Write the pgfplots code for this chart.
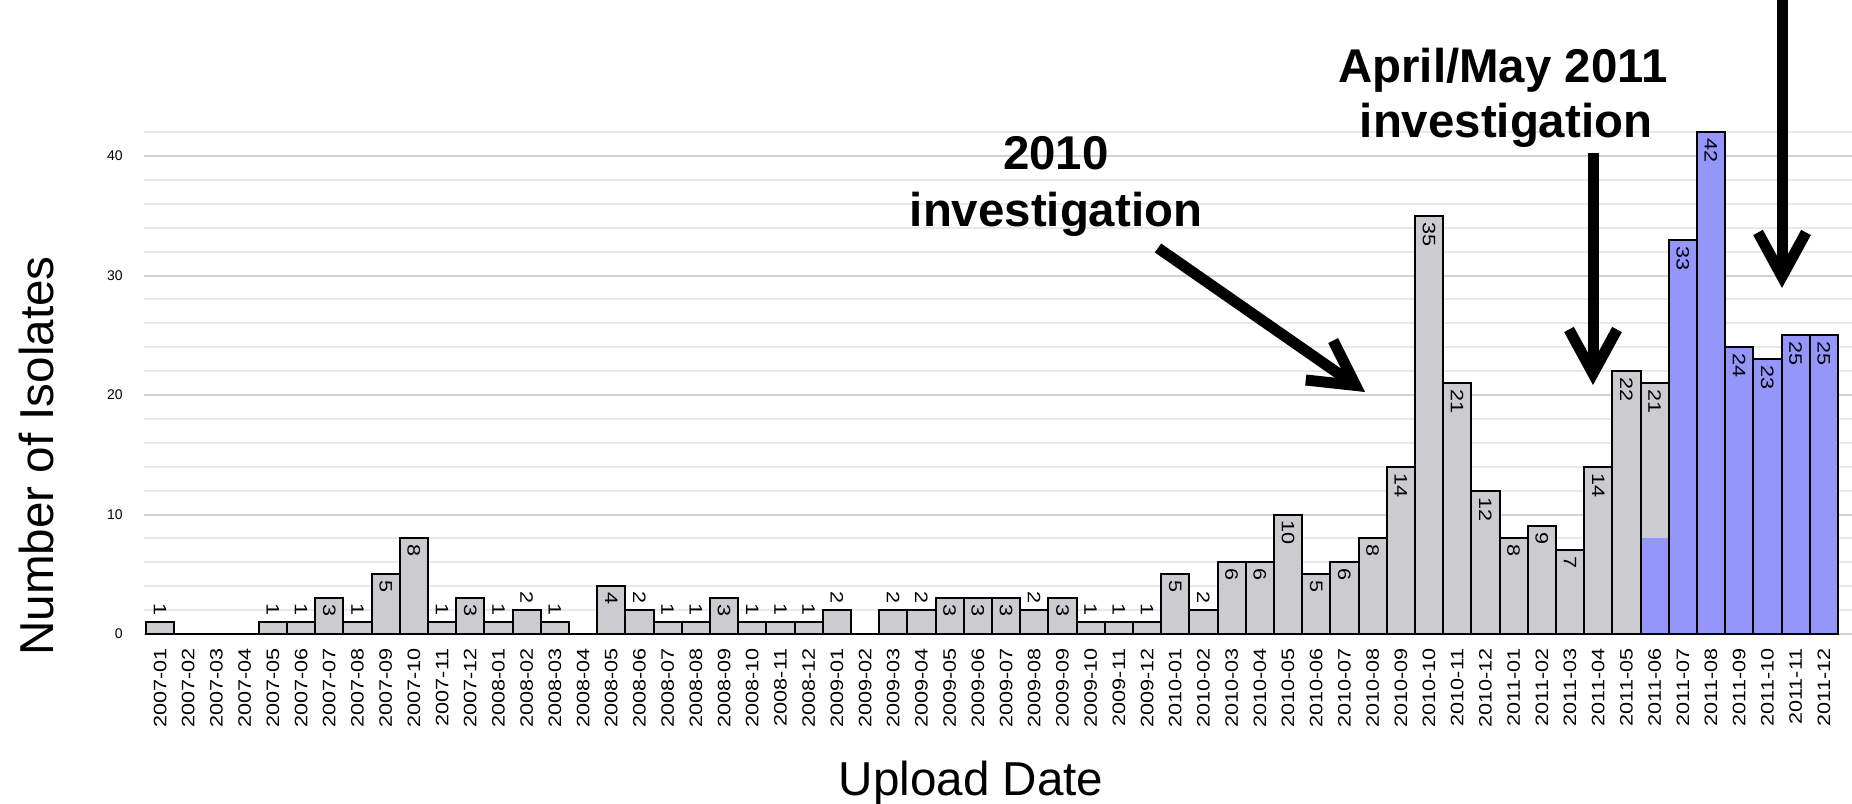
\documentclass[border=0pt]{standalone}
\usepackage{pgfplots}
\pgfplotsset{compat=1.18}
\usepackage{pgfplotstable}
\usepackage{fontspec}
\setmainfont{Liberation Sans}
\newfontfamily\tickfont[FakeStretch=1.2]{Liberation Sans}
\usetikzlibrary{arrows.meta}
\definecolor{barGrey}{RGB}{204,203,207}
\definecolor{barBlue}{RGB}{148,150,250}
\definecolor{gridMinor}{RGB}{232,232,232}
\definecolor{gridMajor}{RGB}{210,210,210}

\pgfplotstableread{
x total blue
0 1 0
1 0 0
2 0 0
3 0 0
4 1 0
5 1 0
6 3 0
7 1 0
8 5 0
9 8 0
10 1 0
11 3 0
12 1 0
13 2 0
14 1 0
15 0 0
16 4 0
17 2 0
18 1 0
19 1 0
20 3 0
21 1 0
22 1 0
23 1 0
24 2 0
25 0 0
26 2 0
27 2 0
28 3 0
29 3 0
30 3 0
31 2 0
32 3 0
33 1 0
34 1 0
35 1 0
36 5 0
37 2 0
38 6 0
39 6 0
40 10 0
41 5 0
42 6 0
43 8 0
44 14 0
45 35 0
46 21 0
47 12 0
48 8 0
49 9 0
50 7 0
51 14 0
52 22 0
53 21 8
54 33 33
55 42 42
56 24 24
57 23 23
58 25 25
59 25 25
}\data

\begin{document}
\begin{tikzpicture}
\begin{axis}[
  at={(0,0)}, anchor=south west,
  scale only axis,
  width=854pt, height=252.74pt,
  xmin=-0.571, xmax=60.0,
  ymin=0, ymax=42.3,
  clip=false,
  axis line style={draw=none},
  major tick length=0pt, minor tick length=0pt,
  ytick={0,10,20,30,40},
  minor ytick={2,4,6,8,12,14,16,18,22,24,26,28,32,34,36,38,42},
  ymajorgrids, yminorgrids,
  major grid style={gridMajor, line width=1pt},
  minor grid style={gridMinor, line width=1pt},
  /pgf/number format/assume math mode=true,
  yticklabel style={font=\fontsize{7}{8}\selectfont, anchor=east, inner sep=0pt, xshift=-10.5pt},
  xtick={0,...,59},
  xticklabels={2007-01,2007-02,2007-03,2007-04,2007-05,2007-06,2007-07,2007-08,2007-09,2007-10,2007-11,2007-12,
    2008-01,2008-02,2008-03,2008-04,2008-05,2008-06,2008-07,2008-08,2008-09,2008-10,2008-11,2008-12,
    2009-01,2009-02,2009-03,2009-04,2009-05,2009-06,2009-07,2009-08,2009-09,2009-10,2009-11,2009-12,
    2010-01,2010-02,2010-03,2010-04,2010-05,2010-06,2010-07,2010-08,2010-09,2010-10,2010-11,2010-12,
    2011-01,2011-02,2011-03,2011-04,2011-05,2011-06,2011-07,2011-08,2011-09,2011-10,2011-11,2011-12},
  xticklabel style={font=\tickfont\fontsize{9}{10}\selectfont, inner sep=0pt, yshift=-7pt, rotate=90, anchor=east},
]
% grey bars
\addplot[ybar, bar width=1, fill=barGrey, draw=black, line width=1pt,
  restrict x to domain=-1:53.5] table[x=x, y=total] {\data};
% blue part of 2011-06
\addplot[ybar, bar width=1, fill=barBlue, draw=none,
  restrict x to domain=52.5:53.5] table[x=x, y=blue] {\data};
\addplot[ybar, bar width=1, fill=none, draw=black, line width=1pt,
  restrict x to domain=52.5:53.5] table[x=x, y=total] {\data};
% blue bars
\addplot[ybar, bar width=1, fill=barBlue, draw=black, line width=1pt,
  restrict x to domain=53.5:60] table[x=x, y=blue] {\data};
% baseline
\draw[black, line width=1pt] (axis cs:-0.5,0) -- (axis cs:59.5,0);
% value labels inside
\addplot[draw=none, mark=none, nodes near coords, point meta=y,
  restrict y to domain=2.5:50,
  every node near coord/.style={font=\tickfont\fontsize{9}{10}\selectfont, inner sep=0pt, yshift=-3pt, rotate=-90, anchor=west}]
  table[x=x, y=total] {\data};
% value labels above
\addplot[draw=none, mark=none, nodes near coords, point meta=y,
  restrict y to domain=0.5:2.5,
  every node near coord/.style={font=\tickfont\fontsize{9}{10}\selectfont, inner sep=0pt, yshift=3pt, rotate=-90, anchor=east}]
  table[x=x, y=total] {\data};
\end{axis}

% axis titles
\node[rotate=90, anchor=base, font=\fontsize{23.8}{28}\selectfont] at (-45.5pt,89pt) {Number of Isolates};
\node[anchor=base, font=\fontsize{23.8}{28}\selectfont] at (413.5pt,-80.5pt) {Upload Date};

% annotations
\node[anchor=base, font=\bfseries\fontsize{23.7}{28}\selectfont] at (456pt,232pt) {2010};
\node[anchor=base, font=\bfseries\fontsize{23.7}{28}\selectfont] at (456pt,203.5pt) {investigation};
\node[anchor=base, font=\bfseries\fontsize{23.7}{28}\selectfont] at (679.5pt,275.5pt) {April/May 2011};
\node[anchor=base, font=\bfseries\fontsize{23.7}{28}\selectfont] at (681pt,248pt) {investigation};

\draw[line width=5.5pt, -{Straight Barb[length=22pt,width=24pt]}] (507pt,193pt) -- (610.5pt,121pt);
\draw[line width=5.5pt, -{Straight Barb[length=22pt,width=24pt]}] (724.5pt,240.5pt) -- (724.5pt,124.5pt);
\draw[line width=5.5pt, -{Straight Barb[length=22pt,width=24pt]}] (819pt,330pt) -- (819pt,173pt);

\pgfresetboundingbox
\useasboundingbox (-72pt,-84.5pt) rectangle (854pt,317pt);
\end{tikzpicture}
\end{document}
